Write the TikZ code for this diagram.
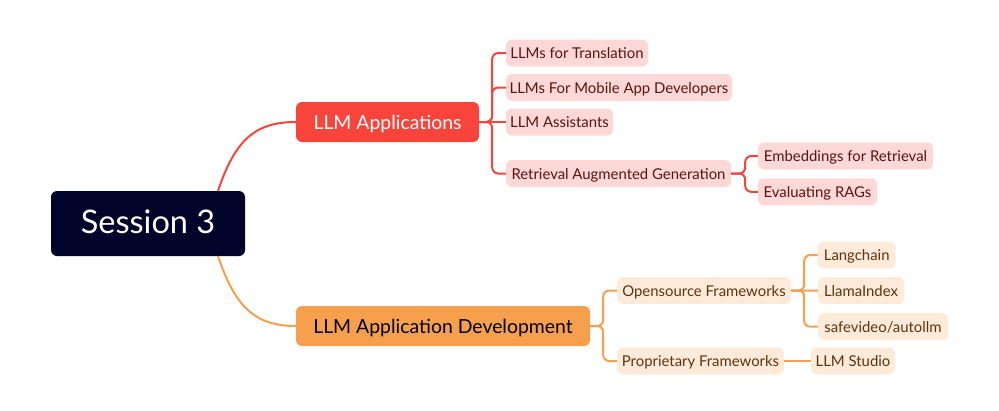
\documentclass[tikz,border=0pt]{standalone}
\usepackage{fontspec}
\setmainfont{Lato}
\definecolor{navy}{HTML}{02032B}
\definecolor{appred}{HTML}{F9443C}
\definecolor{apporange}{HTML}{F6A04D}
\definecolor{pink}{HTML}{FDD8D7}
\definecolor{peach}{HTML}{FDEAD8}
\definecolor{redtext}{HTML}{5A1412}
\definecolor{browntext}{HTML}{5E3411}
\begin{document}
\begin{tikzpicture}[x=1pt,y=-1pt,
  rootbox/.style={fill=navy, text=white, rounded corners=6pt, inner sep=0pt,
    minimum width=194pt, minimum height=65pt, font=\fontsize{32.5}{38}\selectfont,
    text height=27.3pt, text depth=6.5pt},
  mainbox/.style={rounded corners=6pt, inner sep=0pt, minimum height=40pt,
    font=\fontsize{19.4}{23}\selectfont, text height=18pt, text depth=4pt},
  subbox/.style={rounded corners=6pt, inner sep=0pt, minimum height=27pt,
    font=\fontsize{14.9}{18}\selectfont, text height=14.4pt, text depth=3pt},
  redsub/.style={subbox, fill=pink, text=redtext},
  orsub/.style={subbox, fill=peach, text=browntext},
  redline/.style={draw=appred, line width=2pt},
  orline/.style={draw=apporange, line width=2pt},
  tree/.style={rounded corners=6pt}
]
\useasboundingbox (0,0) rectangle (999,410);

\node[rootbox] (s3) at (148,223.5) {Session 3};
\node[mainbox, fill=appred, text=white, minimum width=183pt] (apps) at (387.5,122) {LLM Applications};
\node[mainbox, fill=apporange, text=black, minimum width=294pt] (dev) at (443,326) {LLM Application Development};

\node[redsub, minimum width=142pt] (trans) at (577,53) {LLMs for Translation};
\node[redsub, minimum width=226pt] (mobile) at (619,87.5) {LLMs For Mobile App Developers};
\node[redsub, minimum width=107pt] (assist) at (559.5,122) {LLM Assistants};
\node[redsub, minimum width=225pt] (rag) at (618.5,173.5) {Retrieval Augmented Generation};
\node[redsub, minimum width=175pt] (emb) at (845.5,156) {Embeddings for Retrieval};
\node[redsub, minimum width=119pt] (eval) at (817.5,191.8) {Evaluating RAGs};

\node[orsub, minimum width=174pt] (open) at (704,290.5) {Opensource Frameworks};
\node[orsub, minimum width=167pt] (prop) at (700.5,361) {Proprietary Frameworks};
\node[orsub, minimum width=78pt] (lang) at (856.7,255) {Langchain};
\node[orsub, minimum width=86pt] (llama) at (861,290.7) {LlamaIndex};
\node[orsub, minimum width=130pt] (safe) at (883,326.7) {safevideo/autollm};
\node[orsub, minimum width=84pt] (studio) at (853,361) {LLM Studio};

\coordinate (s3a) at (218,191);
\coordinate (s3b) at (218,256);
\draw[redline] (s3a) .. controls (235,140) and (255,122) .. (apps.west);
\draw[orline] (s3b) .. controls (235,307) and (255,326) .. (dev.west);

\draw[redline, tree] (apps.east) -- ++(13,0) |- (trans.west);
\draw[redline, tree] (apps.east) -- ++(13,0) |- (mobile.west);
\draw[redline] (apps.east) -- (assist.west);
\draw[redline, tree] (apps.east) -- ++(13,0) |- (rag.west);
\draw[redline, tree] (rag.east) -- ++(14,0) |- (emb.west);
\draw[redline, tree] (rag.east) -- ++(14,0) |- (eval.west);

\draw[orline, tree] (dev.east) -- ++(13,0) |- (open.west);
\draw[orline, tree] (dev.east) -- ++(13,0) |- (prop.west);
\draw[orline, tree] (open.east) -- ++(13,0) |- (lang.west);
\draw[orline] (open.east) -- (llama.west);
\draw[orline, tree] (open.east) -- ++(13,0) |- (safe.west);
\draw[orline] (prop.east) -- (studio.west);
\end{tikzpicture}
\end{document}
